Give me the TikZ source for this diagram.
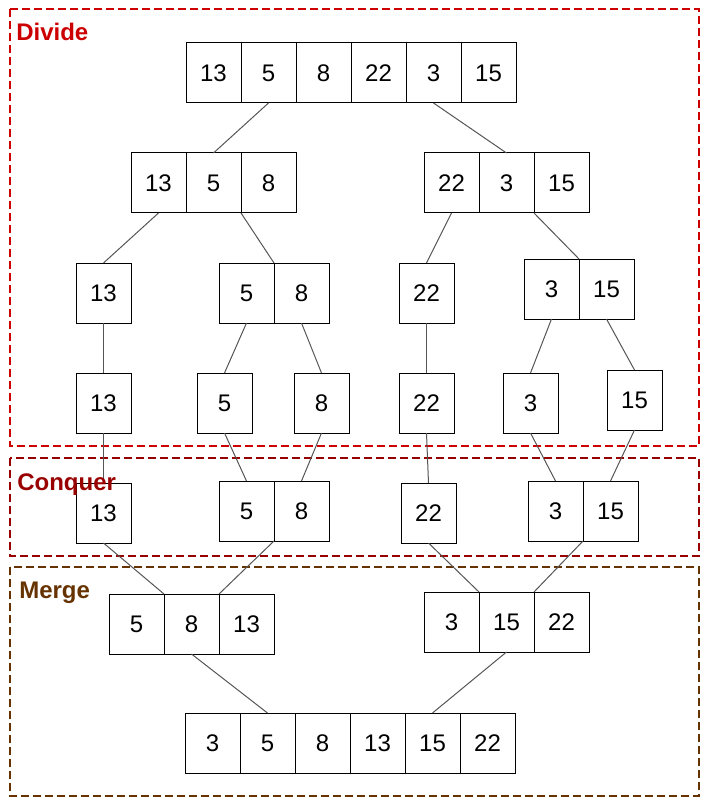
\documentclass[tikz,border=0pt]{standalone}
\usepackage{fontspec}
\setmainfont{Liberation Sans}
\definecolor{divc}{HTML}{CC0000}
\definecolor{conc}{HTML}{990000}
\definecolor{merc}{HTML}{663300}
\definecolor{linkc}{HTML}{555555}
\begin{document}
\begin{tikzpicture}[x=0.75pt,y=-0.75pt,
  cell/.style={draw=black, line width=0.75pt, minimum width=41.25pt, minimum height=45pt, inner sep=0pt, outer sep=0pt, font=\fontsize{18}{21}\selectfont},
  link/.style={draw=linkc, line width=0.75pt},
  frame/.style={line width=1.5pt, dash pattern=on 6pt off 3pt},
  phase/.style={anchor=base west, inner sep=0pt, font=\fontsize{18}{21}\selectfont\bfseries}]
\useasboundingbox (0,0) rectangle (709,802);
% frames
\draw[frame, draw=divc] (10,9) rectangle (699,446);
\draw[frame, draw=conc] (10,458) rectangle (699,556);
\draw[frame, draw=merc] (10,567) rectangle (699,796);
% row 1
\node[cell] (a1) at (213.5,73) {13};
\node[cell] (a2) at (268.5,73) {5};
\node[cell] (a3) at (323.5,73) {8};
\node[cell] (a4) at (378.5,73) {22};
\node[cell] (a5) at (433.5,73) {3};
\node[cell] (a6) at (488.5,73) {15};
% row 2
\node[cell] (b1) at (158.5,183) {13};
\node[cell] (b2) at (213.5,183) {5};
\node[cell] (b3) at (268.5,183) {8};
\node[cell] (b4) at (451.5,183) {22};
\node[cell] (b5) at (506.5,183) {3};
\node[cell] (b6) at (561.5,183) {15};
% row 3
\node[cell] (c1) at (103.5,293) {13};
\node[cell] (c2) at (246.5,293) {5};
\node[cell] (c3) at (301.5,293) {8};
\node[cell] (c4) at (426.5,293) {22};
\node[cell] (c5) at (551.5,289) {3};
\node[cell] (c6) at (606.5,289) {15};
% row 4
\node[cell] (d1) at (103.5,403) {13};
\node[cell] (d2) at (224.5,403) {5};
\node[cell] (d3) at (321.5,403) {8};
\node[cell] (d4) at (426.5,403) {22};
\node[cell] (d5) at (530.5,403) {3};
\node[cell] (d6) at (634.5,400) {15};
% conquer
\node[cell] (e1) at (103.5,513) {13};
\node[cell] (e2) at (246.5,511) {5};
\node[cell] (e3) at (301.5,511) {8};
\node[cell] (e4) at (428.5,513) {22};
\node[cell] (e5) at (555.5,511) {3};
\node[cell] (e6) at (610.5,511) {15};
% merge
\node[cell] (f1) at (136.5,624) {5};
\node[cell] (f2) at (191.5,624) {8};
\node[cell] (f3) at (246.5,624) {13};
\node[cell] (f4) at (451.5,622) {3};
\node[cell] (f5) at (506.5,622) {15};
\node[cell] (f6) at (561.5,622) {22};
% final
\node[cell] (g1) at (212.5,743) {3};
\node[cell] (g2) at (267.5,743) {5};
\node[cell] (g3) at (322.5,743) {8};
\node[cell] (g4) at (377.5,743) {13};
\node[cell] (g5) at (432.5,743) {15};
\node[cell] (g6) at (487.5,743) {22};
% connectors
\draw[link] (a2.south) -- (b2.north);
\draw[link] (a5.south) -- (b5.north);
\draw[link] (b1.south) -- (c1.north);
\draw[link] (b2.south east) -- (c2.north east);
\draw[link] (b4.south) -- (c4.north);
\draw[link] (b5.south east) -- (c5.north east);
\draw[link] (c1.south) -- (d1.north);
\draw[link] (c2.south) -- (d2.north);
\draw[link] (c3.south) -- (d3.north);
\draw[link] (c4.south) -- (d4.north);
\draw[link] (c5.south) -- (d5.north);
\draw[link] (c6.south) -- (d6.north);
\draw[link] (d1.south) -- (e1.north);
\draw[link] (d2.south) -- (e2.north);
\draw[link] (d3.south) -- (e3.north);
\draw[link] (d4.south) -- (e4.north);
\draw[link] (d5.south) -- (e5.north);
\draw[link] (d6.south) -- (e6.north);
\draw[link] (e1.south) -- (f1.north east);
\draw[link] (e2.south east) -- (f2.north east);
\draw[link] (e4.south) -- (f4.north east);
\draw[link] (e5.south east) -- (f5.north east);
\draw[link] (f2.south) -- (g2.north);
\draw[link] (f5.south) -- (g5.north);
% phase labels (on top)
\node[phase, text=divc] (ldiv) at (16,41) {Divide};
\node[phase, text=conc] (lcon) at (17,490) {Conquer};
\node[phase, text=merc] (lmer) at (19,598) {Merge};
\end{tikzpicture}
\end{document}
